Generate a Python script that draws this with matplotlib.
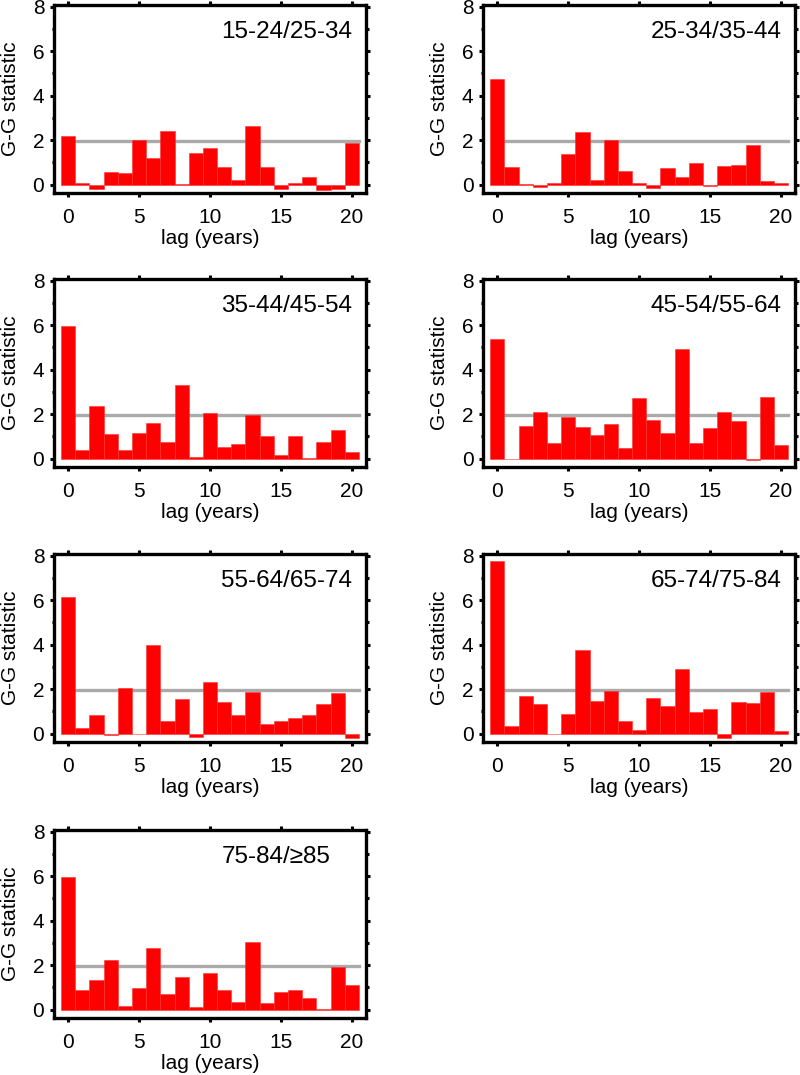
import matplotlib
matplotlib.use('Agg')
import matplotlib.pyplot as plt
from matplotlib.ticker import MultipleLocator

plt.rcParams['font.family'] = ['Liberation Sans', 'DejaVu Sans']

lags = list(range(21))
threshold = 1.96

pair_names = ['15-24/25-34', '25-34/35-44', '35-44/45-54', '45-54/55-64',
              '55-64/65-74', '65-74/75-84', '75-84/\u226585']

gg_15_24 = [2.2, 0.06, -0.18, 0.57, 0.54, 1.99, 1.19, 2.41, 0.01, 1.43, 1.66,
            0.78, 0.2, 2.64, 0.81, -0.21, 0.05, 0.33, -0.24, -0.21, 1.87]
gg_25_34 = [4.76, 0.8, 0.03, -0.13, 0.06, 1.37, 2.38, 0.21, 2.0, 0.63, 0.05,
            -0.16, 0.74, 0.36, 0.96, -0.07, 0.84, 0.9, 1.78, 0.15, 0.08]
gg_35_44 = [5.95, 0.38, 2.37, 1.1, 0.4, 1.15, 1.6, 0.74, 3.33, 0.06, 2.07,
            0.5, 0.65, 1.97, 1.0, 0.18, 1.01, 0.01, 0.75, 1.3, 0.29]
gg_45_54 = [5.38, -0.02, 1.48, 2.1, 0.71, 1.87, 1.44, 1.06, 1.54, 0.46, 2.71,
            1.74, 1.16, 4.92, 0.7, 1.36, 2.08, 1.7, -0.08, 2.75, 0.61]
gg_55_64 = [6.15, 0.23, 0.82, -0.07, 2.04, 0.0, 3.97, 0.58, 1.55, -0.15, 2.31,
            1.42, 0.85, 1.88, 0.41, 0.55, 0.68, 0.83, 1.34, 1.84, -0.22]
gg_65_74 = [7.75, 0.33, 1.68, 1.31, 0.0, 0.9, 3.75, 1.46, 1.91, 0.55, 0.18,
            1.62, 1.26, 2.91, 0.98, 1.11, -0.22, 1.42, 1.37, 1.86, 0.11]
gg_75_84 = [5.97, 0.86, 1.31, 2.24, 0.15, 0.96, 2.76, 0.68, 1.48, 0.11, 1.64,
            0.86, 0.32, 3.06, 0.28, 0.81, 0.9, 0.54, 0.02, 1.93, 1.1]

series = [gg_15_24, gg_25_34, gg_35_44, gg_45_54, gg_55_64, gg_65_74, gg_75_84]

fig = plt.figure(figsize=(8, 10.75), dpi=100)

lefts = [0.0675, 0.604]
bottoms = [0.8205, 0.5656, 0.3098, 0.0530]
w, h = 0.39, 0.1749

for i, (name, vals) in enumerate(zip(pair_names, series)):
    ax = fig.add_axes([lefts[i % 2], bottoms[i // 2], w, h])
    ax.plot([0.5, 20.5], [threshold, threshold], color='#aaaaaa', lw=2.4, zorder=1)
    ax.bar(lags, vals, width=1.0, color='#ff0000', edgecolor='#ff3030',
           linewidth=0.4, zorder=2)
    ax.set_xlim(-1, 21)
    ax.set_ylim(-0.38, 8.08)
    ax.set_xticks([0, 5, 10, 15, 20])
    ax.set_yticks([0, 2, 4, 6, 8])
    ax.yaxis.set_minor_locator(MultipleLocator(1))
    ax.tick_params(which='both', direction='out', top=True, right=True,
                   labelsize=15, width=2.2)
    ax.tick_params(which='major', length=3)
    ax.tick_params(axis='x', which='major', pad=8)
    ax.tick_params(axis='y', which='major', pad=4)
    ax.tick_params(which='minor', length=1.8)
    for sp in ax.spines.values():
        sp.set_linewidth(2.4)
    ax.set_xlabel('lag (years)', fontsize=15, labelpad=1)
    ax.set_ylabel('G-G statistic', fontsize=15, labelpad=9)
    ax.text(10.8, 6.86, name, fontsize=17.5, ha='left', va='center')

fig.savefig('out.png', dpi=100)
